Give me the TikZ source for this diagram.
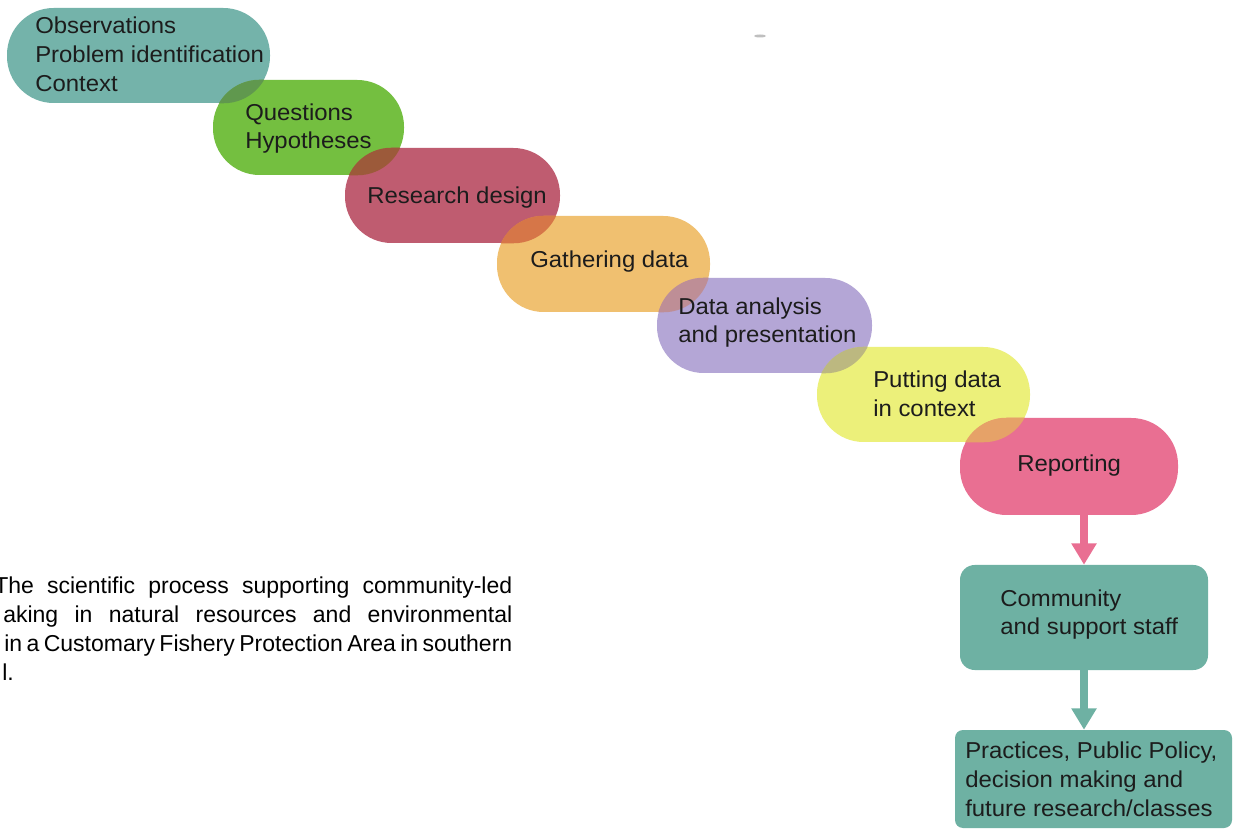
\documentclass[tikz,border=0pt]{standalone}
\usepackage{fontspec}
\setmainfont{Liberation Sans}
\newfontfamily\diagfont{Liberation Sans}[FakeStretch=1.04]
\usetikzlibrary{arrows.meta}
\definecolor{tealc}{RGB}{116,179,170}
\definecolor{tealb}{RGB}{110,177,163}
\definecolor{greenc}{RGB}{116,191,64}
\definecolor{redc}{RGB}{191,92,112}
\definecolor{orangec}{RGB}{240,192,112}
\definecolor{purplec}{RGB}{180,166,214}
\definecolor{yellowc}{RGB}{236,240,122}
\definecolor{pinkc}{RGB}{233,111,146}
\definecolor{ovA}{RGB}{96,152,78}
\definecolor{ovB}{RGB}{156,90,58}
\definecolor{ovC}{RGB}{214,118,72}
\definecolor{ovD}{RGB}{190,142,150}
\definecolor{ovE}{RGB}{188,184,128}
\definecolor{ovF}{RGB}{230,162,104}
\definecolor{textc}{RGB}{28,28,28}
\tikzset{
  pill/.style={rectangle, rounded corners=35pt, inner sep=0pt, minimum height=71.25pt},
  boxr/.style={rectangle, inner sep=0pt},
  txt/.style={anchor=base west, inner sep=0pt, text=textc, font=\diagfont\fontsize{17.25}{20}\selectfont},
  captxt/.style={anchor=base west, inner sep=0pt, text=black, font=\fontsize{17.25}{20}\selectfont},
  arr/.style={line width=6pt, -{Triangle[width=18pt,length=16pt]}},
}
\newcommand\jline[2]{\hbox to #1{\spaceskip=0pt plus 1fil\relax #2}}
\begin{document}
\begin{tikzpicture}[x=0.75pt,y=-0.75pt]
\clip (0,0) rectangle (1236,830);
\fill[white] (0,0) rectangle (1236,830);
% pills
\node[pill, fill=tealc, minimum width=197.25pt] (p1) at (138.5,55.5) {};
\node[pill, fill=greenc, minimum width=143.25pt] (p2) at (308.5,127.5) {};
\node[pill, fill=redc, minimum width=161.25pt] (p3) at (452.5,195.5) {};
\node[pill, fill=orangec, minimum width=159.75pt, minimum height=72pt] (p4) at (603.5,264) {};
\node[pill, fill=purplec, minimum width=161.25pt] (p5) at (764.5,325.5) {};
\node[pill, fill=yellowc, minimum width=159.75pt] (p6) at (923.5,394.5) {};
\node[pill, fill=pinkc, minimum width=163.5pt, minimum height=72.75pt] (p7) at (1069,466.5) {};
% overlaps
\begin{scope}
\clip[rounded corners=35pt] (p1.south west) rectangle (p1.north east);
\fill[ovA, rounded corners=35pt] (p2.south west) rectangle (p2.north east);
\end{scope}
\begin{scope}
\clip[rounded corners=35pt] (p2.south west) rectangle (p2.north east);
\fill[ovB, rounded corners=35pt] (p3.south west) rectangle (p3.north east);
\end{scope}
\begin{scope}
\clip[rounded corners=35pt] (p3.south west) rectangle (p3.north east);
\fill[ovC, rounded corners=35pt] (p4.south west) rectangle (p4.north east);
\end{scope}
\begin{scope}
\clip[rounded corners=35pt] (p4.south west) rectangle (p4.north east);
\fill[ovD, rounded corners=35pt] (p5.south west) rectangle (p5.north east);
\end{scope}
\begin{scope}
\clip[rounded corners=35pt] (p5.south west) rectangle (p5.north east);
\fill[ovE, rounded corners=35pt] (p6.south west) rectangle (p6.north east);
\end{scope}
\begin{scope}
\clip[rounded corners=35pt] (p6.south west) rectangle (p6.north east);
\fill[ovF, rounded corners=35pt] (p7.south west) rectangle (p7.north east);
\end{scope}
% boxes
\node[boxr, fill=tealb, rounded corners=11pt, minimum width=186pt, minimum height=78.75pt] (b8) at (1084,617.5) {};
\node[boxr, fill=tealb, rounded corners=6pt, minimum width=207.75pt, minimum height=73.5pt] (b9) at (1093.5,779) {};
% arrows
\draw[arr, pinkc] (p7.south -| b8.north) -- (b8.north);
\draw[arr, tealb] (b8.south) -- (b8.south |- b9.north);
% texts
\node[txt] (t1a) at (35,34) {Observations};
\node[txt] (t1b) at (35,63) {Problem identification};
\node[txt] (t1c) at (35,92) {Context};
\node[txt] (t2a) at (245,121) {Questions};
\node[txt] (t2b) at (245,149) {Hypotheses};
\node[txt] (t3) at (367,204) {Research design};
\node[txt] (t4) at (530,268) {Gathering data};
\node[txt] (t5a) at (678,315) {Data analysis};
\node[txt] (t5b) at (678,343) {and presentation};
\node[txt] (t6a) at (873,388) {Putting data};
\node[txt] (t6b) at (873,417) {in context};
\node[txt] (t7) at (1017,472) {Reporting};
\node[txt] (t8a) at (1000,606) {Community};
\node[txt] (t8b) at (1000,634) {and support staff};
\node[txt] (t9a) at (965,758) {Practices, Public Policy,};
\node[txt] (t9b) at (965,787) {decision making and};
\node[txt] (t9c) at (965,816) {future research/classes};
% caption
\node[captxt] (c1) at (-6,593) {\jline{388.5pt}{The scientific process supporting community-led}};
\node[captxt] (c2) at (3,622) {\jline{381.75pt}{aking in natural resources and environmental}};
\node[captxt] (c3) at (4,651) {\jline{381pt}{in a Customary Fishery Protection Area in southern}};
\node[captxt] (c4) at (2,680) {l.};
% stray mark
\fill[gray!50] (760,36) ellipse (6 and 1.5);
\end{tikzpicture}
\end{document}
